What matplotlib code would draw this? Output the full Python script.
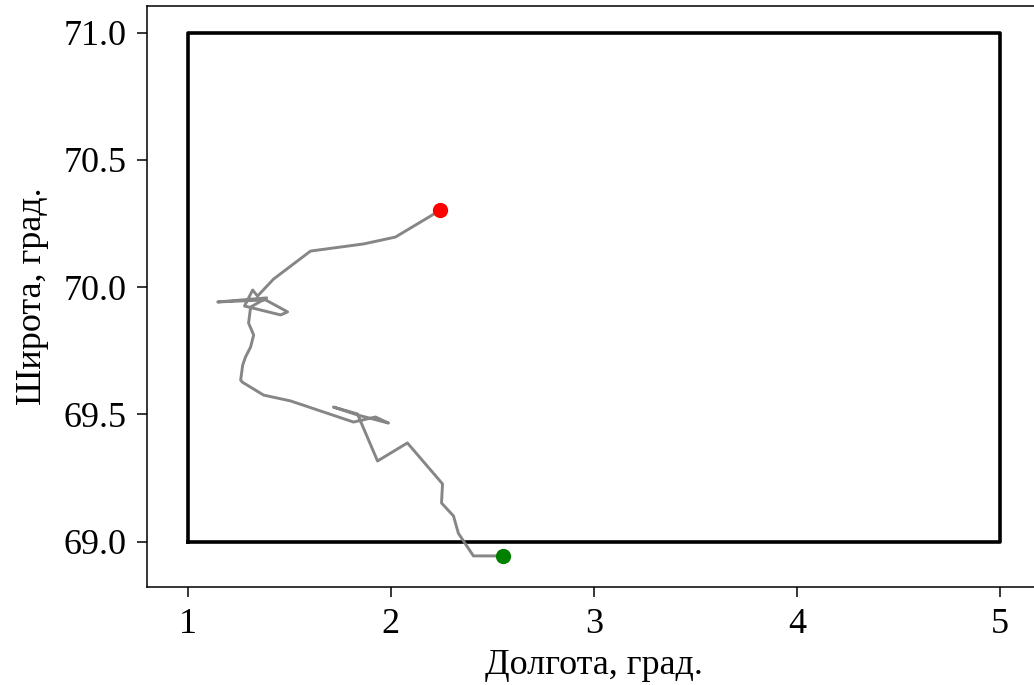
import numpy as np
import matplotlib
matplotlib.use("Agg")
import matplotlib.pyplot as plt

# трек (долгота, широта), от конца к началу
lon = [2.245, 2.023, 1.866, 1.605, 1.423, 1.344, 1.320, 1.280, 1.458, 1.492,
       1.384, 1.148, 1.389, 1.310, 1.300, 1.325, 1.310, 1.285, 1.271, 1.261,
       1.269, 1.374, 1.507, 1.817, 1.925, 1.989, 1.836, 1.718, 1.836, 1.935,
       2.082, 2.255, 2.250, 2.309, 2.333, 2.407, 2.555]
lat = [70.303, 70.197, 70.170, 70.142, 70.032, 69.965, 69.989, 69.926, 69.891, 69.903,
       69.950, 69.942, 69.958, 69.922, 69.859, 69.812, 69.765, 69.726, 69.694, 69.635,
       69.627, 69.576, 69.553, 69.470, 69.490, 69.466, 69.498, 69.529, 69.502, 69.317,
       69.388, 69.227, 69.152, 69.101, 69.033, 68.944, 68.944]

# область
box_lon = [1, 5, 5, 1, 1]
box_lat = [69, 69, 71, 71, 69]

plt.rcParams['font.family'] = ['Liberation Serif', 'DejaVu Serif']
plt.rcParams['font.size'] = 26

fig = plt.figure(figsize=(10.34, 6.85), dpi=100)
ax = fig.add_axes([0.1422, 0.1435, 0.8642, 0.8477])

ax.plot(box_lon, box_lat, color="black", linewidth=2.6)
ax.plot(lon, lat, color="gray", linewidth=2.1, alpha=0.95)
ax.plot(lon[0], lat[0], "o", color="red", markersize=10)
ax.plot(lon[-1], lat[-1], "o", color="green", markersize=10)

ax.set_xlim(0.8, 5.2)
ax.set_ylim(68.823, 71.105)
ax.set_xticks([1, 2, 3, 4, 5])
ax.set_yticks([69.0, 69.5, 70.0, 70.5, 71.0])
ax.set_yticklabels(["69.0", "69.5", "70.0", "70.5", "71.0"])
ax.tick_params(length=7, width=1.1, pad=8, labelsize=26)
for s in ax.spines.values():
    s.set_linewidth(1.1)

ax.set_xlabel("Долгота, град.", fontsize=26, labelpad=6)
ax.set_ylabel("Широта, град.", fontsize=26, labelpad=10)

fig.savefig("out.png", dpi=100)
